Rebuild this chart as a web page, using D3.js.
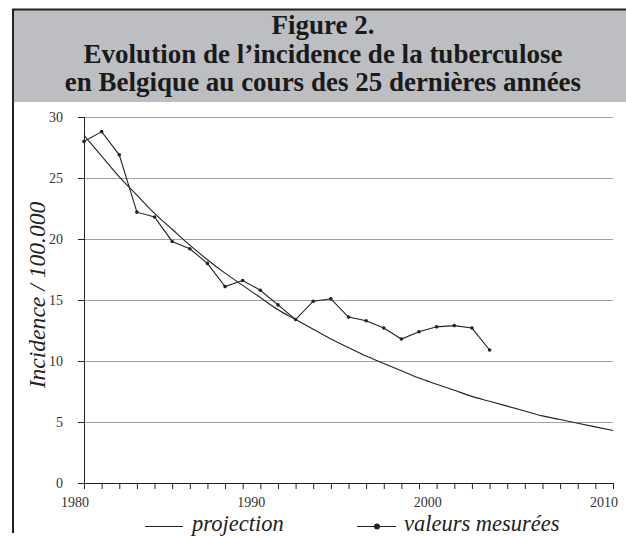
<!DOCTYPE html>
<html>
<head>
<meta charset="utf-8">
<script src="https://cdn.jsdelivr.net/npm/d3@7"></script>
<style>
    body { margin: 0; background: #fff; }
    svg { display: block; }
</style>
</head>
<body>
<div id="chart"></div>
<script>
const w = 626;
const h = 536;
const margin = { top: 117, right: 13, bottom: 53, left: 84 };
const serif = "'Liberation Serif', 'Times New Roman', serif";

// measured incidence per 100.000, 1980 - 2003
const measuredYears = [1980, 1981, 1982, 1983, 1984, 1985, 1986, 1987, 1988, 1989, 1990, 1991,
    1992, 1993, 1994, 1995, 1996, 1997, 1998, 1999, 2000, 2001, 2002, 2003];
const measuredValues = [28.0, 28.8, 26.9, 22.2, 21.8, 19.8, 19.2, 18.0, 16.1, 16.6, 15.8, 14.6,
    13.4, 14.9, 15.1, 13.6, 13.3, 12.7, 11.8, 12.4, 12.8, 12.9, 12.7, 10.9];

// projection curve, read year by year
const projectionYears = [1980, 1981, 1982, 1983, 1984, 1985, 1986, 1987, 1988, 1989, 1990, 1991,
    1992, 1993, 1994, 1995, 1996, 1997, 1998, 1999, 2000, 2001, 2002, 2003, 2004, 2005, 2006,
    2007, 2008, 2009, 2010];
const projectionValues = [28.5, 26.8, 25.1, 23.6, 22.1, 20.8, 19.5, 18.3, 17.2, 16.2, 15.2, 14.2,
    13.4, 12.6, 11.8, 11.1, 10.4, 9.8, 9.2, 8.6, 8.1, 7.6, 7.1, 6.7, 6.3, 5.9, 5.5,
    5.2, 4.9, 4.6, 4.3];

const yTicks = [0, 5, 10, 15, 20, 25, 30];
const xTickLabels = [1980, 1990, 2000, 2010];
const titleLines = ["Figure 2.", "Evolution de l\u2019incidence de la tuberculose",
    "en Belgique au cours des 25 derni\u00e8res ann\u00e9es"];

const svg = d3.select("#chart")
    .append("svg")
    .attr("width", w)
    .attr("height", h);

// frame + header band
svg.append("rect")
    .attr("x", 13)
    .attr("y", 9)
    .attr("width", w - 13)
    .attr("height", 93)
    .attr("fill", "#bdbec1");

svg.append("line")
    .attr("x1", 12).attr("x2", w)
    .attr("y1", 9.5).attr("y2", 9.5)
    .attr("stroke", "#222")
    .attr("stroke-width", 2);

svg.append("line")
    .attr("x1", 13).attr("x2", 13)
    .attr("y1", 9).attr("y2", 533)
    .attr("stroke", "#222")
    .attr("stroke-width", 2);

svg.selectAll(".title")
    .data(titleLines)
    .enter()
    .append("text")
    .attr("class", "title")
    .attr("x", 323)
    .attr("y", (d, i) => 34 + i * 28.5)
    .attr("text-anchor", "middle")
    .style("font-family", serif)
    .style("font-weight", "bold")
    .style("font-size", "27px")
    .style("fill", "#1a1a1a")
    .text(d => d);

const xScale = d3.scaleLinear()
    .domain([1980, 2010])
    .range([margin.left, w - margin.right]);

const yScale = d3.scaleLinear()
    .domain([0, 30])
    .range([h - margin.bottom, margin.top]);

// gridlines
svg.append("g")
    .selectAll("line")
    .data(yTicks.filter(d => d > 0))
    .enter()
    .append("line")
    .attr("x1", xScale(1980))
    .attr("x2", xScale(2010))
    .attr("y1", d => Math.round(yScale(d)) + 0.5)
    .attr("y2", d => Math.round(yScale(d)) + 0.5)
    .attr("stroke", "#a0a0a0")
    .attr("stroke-width", 1.2);

// y axis
const yAxis = d3.axisLeft(yScale)
    .tickValues(yTicks)
    .tickSize(6)
    .tickPadding(15);

const yG = svg.append("g")
    .attr("id", "y-axis")
    .attr("transform", `translate(${margin.left}, 0)`)
    .call(yAxis);
yG.select(".domain").attr("stroke", "#222");
yG.selectAll(".tick line").attr("stroke", "#222");
yG.selectAll("text")
    .style("font-family", serif)
    .style("font-size", "14px")
    .style("fill", "#333");

// x axis: yearly ticks, labels every 10 years
const xAxis = d3.axisBottom(xScale)
    .tickValues(d3.range(1980, 2011))
    .tickSize(6)
    .tickFormat("");

const xG = svg.append("g")
    .attr("id", "x-axis")
    .attr("transform", `translate(0, ${h - margin.bottom})`)
    .call(xAxis);
xG.select(".domain").attr("stroke", "#222");
xG.selectAll(".tick line").attr("stroke", "#222");
xG.selectAll(".tick text").remove();

svg.append("g")
    .selectAll("text")
    .data(xTickLabels)
    .enter()
    .append("text")
    .attr("x", d => xScale(d) - 9)
    .attr("y", h - margin.bottom + 24)
    .attr("text-anchor", "middle")
    .style("font-family", serif)
    .style("font-size", "14px")
    .style("fill", "#333")
    .text(d => d);

// y title
svg.append("text")
    .attr("transform", `translate(45, ${(yScale(0) + yScale(30)) / 2 - 5}) rotate(-90)`)
    .attr("text-anchor", "middle")
    .style("font-family", serif)
    .style("font-style", "italic")
    .style("font-size", "23.6px")
    .style("fill", "#222")
    .text("Incidence / 100.000");

// projection
const projLine = d3.line()
    .x((d, i) => xScale(projectionYears[i]))
    .y(d => yScale(d))
    .curve(d3.curveMonotoneX);

svg.append("path")
    .datum(projectionValues)
    .attr("d", projLine)
    .attr("fill", "none")
    .attr("stroke", "#222")
    .attr("stroke-width", 1.1);

// measured values
const measLine = d3.line()
    .x((d, i) => xScale(measuredYears[i]))
    .y(d => yScale(d));

svg.append("path")
    .datum(measuredValues)
    .attr("d", measLine)
    .attr("fill", "none")
    .attr("stroke", "#222")
    .attr("stroke-width", 1.1);

svg.append("g")
    .selectAll("circle")
    .data(measuredValues)
    .enter()
    .append("circle")
    .attr("cx", (d, i) => xScale(measuredYears[i]))
    .attr("cy", d => yScale(d))
    .attr("r", 1.8)
    .attr("fill", "#222");

// legend
const legend = svg.append("g").attr("class", "legend");

legend.append("line")
    .attr("x1", 145).attr("x2", 183)
    .attr("y1", 526.5).attr("y2", 526.5)
    .attr("stroke", "#222")
    .attr("stroke-width", 1.2);

legend.append("text")
    .attr("x", 192)
    .attr("y", 530.5)
    .style("font-family", serif)
    .style("font-style", "italic")
    .style("font-size", "22.5px")
    .style("fill", "#222")
    .text("projection");

legend.append("line")
    .attr("x1", 357).attr("x2", 396)
    .attr("y1", 526.5).attr("y2", 526.5)
    .attr("stroke", "#222")
    .attr("stroke-width", 1.2);

legend.append("circle")
    .attr("cx", 377)
    .attr("cy", 526.5)
    .attr("r", 3)
    .attr("fill", "#222");

legend.append("text")
    .attr("x", 404)
    .attr("y", 530.5)
    .style("font-family", serif)
    .style("font-style", "italic")
    .style("font-size", "22.5px")
    .style("fill", "#222")
    .text("valeurs mesur\u00e9es");
</script>
</body>
</html>
